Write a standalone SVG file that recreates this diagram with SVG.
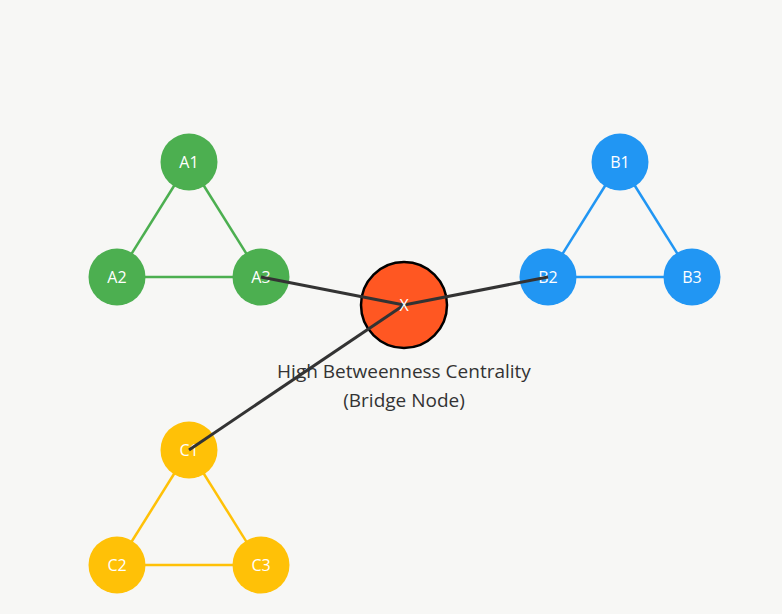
<svg xmlns="http://www.w3.org/2000/svg" width="782" height="614" viewBox="0 0 782 614">
<style>
.lbl{font-family:"Open Sans","Noto Sans",sans-serif;font-size:16px;fill:#fff;text-anchor:middle;dominant-baseline:central}
.cap{font-family:"Open Sans","Noto Sans",sans-serif;font-size:19px;fill:#333;text-anchor:middle}
.ga{stroke:#4CAF50;stroke-width:2.5;fill:none}
.gb{stroke:#2196F3;stroke-width:2.5;fill:none}
.gc{stroke:#FFC107;stroke-width:2.5;fill:none}
.br{stroke:#333;stroke-width:3;fill:none}
</style>
<rect width="782" height="614" fill="#f7f7f5"/>
<g id="group-edges">
<line class="ga" x1="189" y1="162" x2="117" y2="277"/>
<line class="ga" x1="189" y1="162" x2="261" y2="277"/>
<line class="ga" x1="117" y1="277" x2="261" y2="277"/>
<line class="gb" x1="620" y1="162" x2="548" y2="277"/>
<line class="gb" x1="620" y1="162" x2="692" y2="277"/>
<line class="gb" x1="548" y1="277" x2="692" y2="277"/>
<line class="gc" x1="189" y1="450" x2="117" y2="565"/>
<line class="gc" x1="189" y1="450" x2="261" y2="565"/>
<line class="gc" x1="117" y1="565" x2="261" y2="565"/>
</g>
<g id="A1"><circle cx="189" cy="162" r="28.5" fill="#4CAF50"/><text class="lbl" x="189" y="162">A1</text></g>
<g id="A2"><circle cx="117" cy="277" r="28.5" fill="#4CAF50"/><text class="lbl" x="117" y="277">A2</text></g>
<g id="A3"><circle cx="261" cy="277" r="28.5" fill="#4CAF50"/><text class="lbl" x="261" y="277">A3</text></g>
<g id="B1"><circle cx="620" cy="162" r="28.5" fill="#2196F3"/><text class="lbl" x="620" y="162">B1</text></g>
<g id="B2"><circle cx="548" cy="277" r="28.5" fill="#2196F3"/><text class="lbl" x="548" y="277">B2</text></g>
<g id="B3"><circle cx="692" cy="277" r="28.5" fill="#2196F3"/><text class="lbl" x="692" y="277">B3</text></g>
<g id="C1"><circle cx="189" cy="450" r="28.5" fill="#FFC107"/><text class="lbl" x="189" y="450">C1</text></g>
<g id="C2"><circle cx="117" cy="565" r="28.5" fill="#FFC107"/><text class="lbl" x="117" y="565">C2</text></g>
<g id="C3"><circle cx="261" cy="565" r="28.5" fill="#FFC107"/><text class="lbl" x="261" y="565">C3</text></g>
<g id="X"><circle cx="404" cy="305" r="43" fill="#FF5722" stroke="#000" stroke-width="2.5"/></g>
<g id="bridge-edges">
<line class="br" x1="261" y1="277" x2="404" y2="305"/>
<line class="br" x1="548" y1="277" x2="404" y2="305"/>
<line class="br" x1="189" y1="450" x2="404" y2="305"/>
</g>
<text class="lbl" x="404" y="305" font-size="18">X</text>
<g id="caption">
<text class="cap" x="404" y="378">High Betweenness Centrality</text>
<text class="cap" x="404" y="407">(Bridge Node)</text>
</g>
</svg>
